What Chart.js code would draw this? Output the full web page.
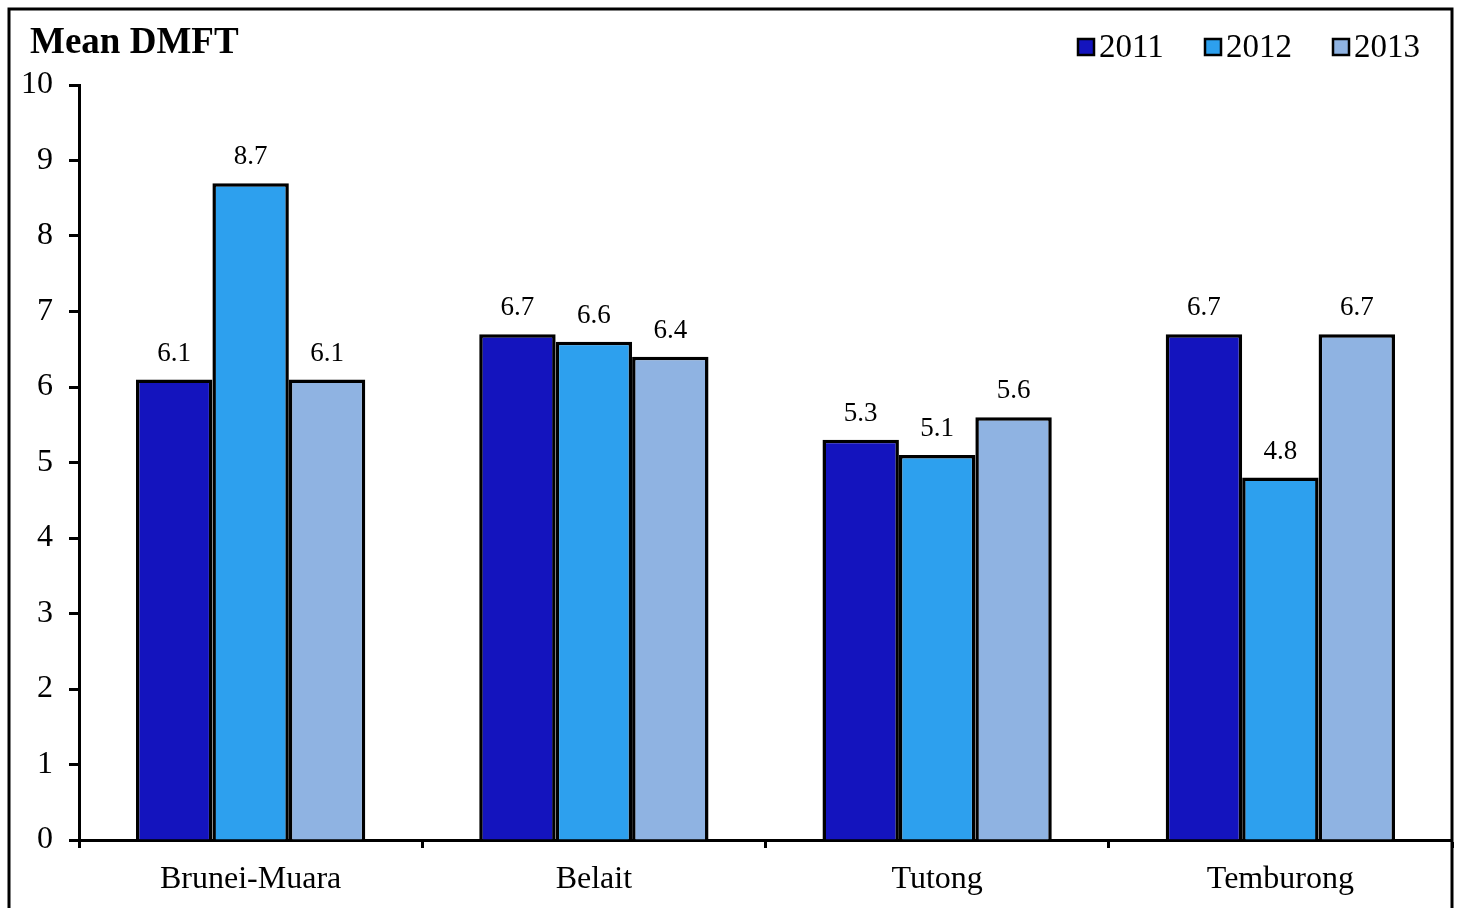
<!DOCTYPE html>
<html>
<head>
<meta charset="utf-8">
<script src="https://cdn.jsdelivr.net/npm/chart.js@4.4.0/dist/chart.umd.min.js"></script>
<style>
  html, body { margin: 0; padding: 0; background: #fff; }
  #wrap { width: 1460px; height: 908px; position: relative; }
</style>
</head>
<body>
<div id="wrap"><canvas id="dmftChart" width="1460" height="908"></canvas></div>
<script>
// Data
const districts = ['Brunei-Muara', 'Belait', 'Tutong', 'Temburong'];
const years = ['2011', '2012', '2013'];
const dmft2011 = [6.1, 6.7, 5.3, 6.7];
const dmft2012 = [8.7, 6.6, 5.1, 4.8];
const dmft2013 = [6.1, 6.4, 5.6, 6.7];
const yearColors = ['#1414BE', '#2DA0EE', '#8FB3E2'];
const yTicks = [0, 1, 2, 3, 4, 5, 6, 7, 8, 9, 10];

const serif = '"Liberation Serif", "Times New Roman", serif';

// Frame, title, legend and value labels
const decorations = {
    id: 'decorations',
    afterDraw(chart) {
        const c = chart.ctx;
        c.save();
        // outer frame
        c.strokeStyle = '#000';
        c.lineWidth = 3;
        c.strokeRect(9, 9, 1443, 1000);

        // title
        c.fillStyle = '#000';
        c.font = 'bold 37px ' + serif;
        c.textAlign = 'left';
        c.textBaseline = 'middle';
        c.fillText('Mean DMFT', 30, 43);

        // legend
        const legendX = [1078, 1205, 1333];
        c.font = '33px ' + serif;
        chart.data.datasets.forEach((ds, i) => {
            c.fillStyle = ds.backgroundColor;
            c.fillRect(legendX[i], 39, 16, 16);
            c.lineWidth = 2.5;
            c.strokeStyle = '#000';
            c.strokeRect(legendX[i], 39, 16, 16);
            c.fillStyle = '#000';
            c.fillText(ds.label, legendX[i] + 21, 48);
        });

        // value labels above bars
        c.font = '27px ' + serif;
        c.textAlign = 'center';
        c.textBaseline = 'middle';
        chart.data.datasets.forEach((ds, i) => {
            chart.getDatasetMeta(i).data.forEach((bar, j) => {
                c.fillText(ds.data[j].toFixed(1), bar.x, bar.y - 26);
            });
        });
        c.restore();
    }
};

const ctx = document.getElementById('dmftChart').getContext('2d');
const dmftChart = new Chart(ctx, {
    type: 'bar',
    data: {
        labels: districts,
        datasets: [dmft2011, dmft2012, dmft2013].map((vals, i) => ({
            label: years[i],
            data: vals,
            backgroundColor: yearColors[i],
            borderColor: '#000',
            borderWidth: 3.5,
            borderSkipped: 'bottom',
            categoryPercentage: 0.668,
            barPercentage: 1.0
        }))
    },
    options: {
        responsive: false,
        animation: false,
        layout: { padding: { left: 0, right: 8, top: 85, bottom: 0 } },
        plugins: {
            legend: { display: false },
            title: { display: false },
            tooltip: { enabled: false }
        },
        scales: {
            x: {
                border: { color: '#000', width: 3 },
                grid: {
                    offset: true,
                    drawOnChartArea: false,
                    drawTicks: true,
                    tickLength: 8,
                    tickWidth: 3,
                    tickColor: '#000'
                },
                ticks: {
                    color: '#000',
                    padding: 12,
                    font: { family: serif, size: 32 }
                },
                afterFit(scale) { scale.height = 68; }
            },
            y: {
                min: 0,
                max: 10,
                border: { color: '#000', width: 3 },
                grid: {
                    drawOnChartArea: false,
                    drawTicks: true,
                    tickLength: 10,
                    tickWidth: 3,
                    tickColor: '#000'
                },
                afterBuildTicks(scale) {
                    scale.ticks = yTicks.map(v => ({ value: v }));
                },
                ticks: {
                    color: '#000',
                    padding: 16,
                    font: { family: serif, size: 32 }
                },
                afterFit(scale) { scale.width = 79; }
            }
        }
    },
    plugins: [decorations]
});
</script>
</body>
</html>
